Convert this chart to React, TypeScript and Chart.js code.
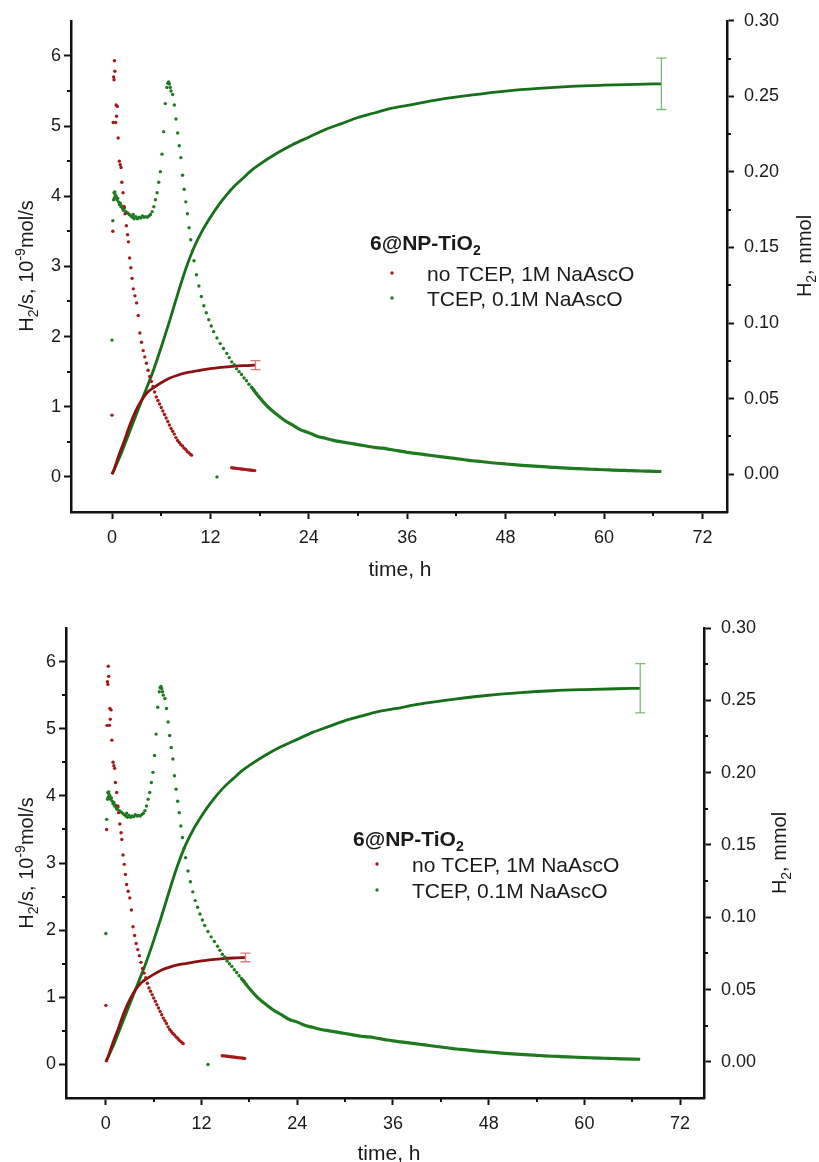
import React, { useEffect, useRef } from "react";
import { Chart, registerables } from "chart.js";
Chart.register(...registerables);

// ---------- axis ticks ----------
const xTickValues = [0, 12, 24, 36, 48, 60, 72];
const xMinorValues = [6, 18, 30, 42, 54, 66];
const yTickValues = [0, 1, 2, 3, 4, 5, 6];
const yMinorValues = [0.5, 1.5, 2.5, 3.5, 4.5, 5.5];
const y2TickValues = [0, 0.05, 0.1, 0.15, 0.2, 0.25, 0.3];
const y2MinorValues = [0.025, 0.075, 0.125, 0.175, 0.225, 0.275];

// ---------- rate, no TCEP, 1M NaAscO (left axis, 10^-9 mol/s) ----------
const redRateTime = [0, 0.1, 0.15, 0.2, 0.25, 0.3, 0.35, 0.45, 0.5, 0.55, 0.65, 0.75, 0.9, 1.0, 1.1, 1.2, 1.35, 1.5, 1.6, 1.75, 1.9, 2.0, 2.15, 2.3, 2.45, 2.6, 2.8, 3.0, 3.2, 3.4, 3.6, 3.8, 4.0, 4.2, 4.4, 4.6, 4.8, 5.0, 5.2, 5.4, 5.6, 5.8, 6.0, 6.2, 6.4, 6.6, 6.8, 7.0, 7.2, 7.4, 7.6, 7.8, 8.0, 8.2, 8.4, 8.6, 8.8, 9.0, 9.2, 9.4, 9.6, 9.7];
const redRateValue = [0.88, 3.5, 5.05, 5.7, 5.66, 5.93, 5.78, 5.05, 5.3, 5.14, 5.28, 4.83, 4.5, 4.45, 4.41, 4.2, 4.05, 3.85, 3.75, 3.58, 3.45, 3.35, 3.12, 2.98, 2.83, 2.68, 2.58, 2.48, 2.3, 2.05, 1.92, 1.8, 1.71, 1.62, 1.52, 1.43, 1.36, 1.29, 1.21, 1.14, 1.09, 1.04, 0.99, 0.94, 0.89, 0.84, 0.79, 0.74, 0.69, 0.65, 0.61, 0.56, 0.52, 0.49, 0.46, 0.44, 0.41, 0.39, 0.36, 0.34, 0.32, 0.31];
const redTailTime = [14.6, 14.8, 15.0, 15.2, 15.4, 15.6, 15.8, 16.0, 16.2, 16.4, 16.6, 16.8, 17.0, 17.2, 17.4];
const redTailValue = [0.13, 0.128, 0.125, 0.122, 0.118, 0.115, 0.112, 0.11, 0.107, 0.104, 0.1, 0.098, 0.095, 0.093, 0.09];

// ---------- rate, TCEP, 0.1M NaAscO (left axis) ----------
const greenRateTime = [0, 0.1, 0.2, 0.25, 0.3, 0.35, 0.4, 0.5, 0.6, 0.7, 0.8, 0.9, 1.0, 1.1, 1.2, 1.3, 1.4, 1.5, 1.7, 1.9, 2.1, 2.3, 2.5, 2.6, 2.7, 2.9, 3.1, 3.3, 3.5, 3.7, 3.9, 4.1, 4.3, 4.5, 4.7, 4.9, 5.1, 5.3, 5.5, 5.7, 5.9, 6.1, 6.3, 6.5, 6.7, 6.8, 6.9, 7.0, 7.1, 7.2, 7.4, 7.6, 7.8, 8.0, 8.2, 8.4, 8.6, 8.8, 9.0, 9.2, 9.4, 9.6, 9.8, 10.0, 10.3, 10.6, 10.9, 11.2, 11.5, 11.8, 12.1, 12.4, 12.8, 12.8, 13.2, 13.6, 14.0, 14.3, 14.6, 14.9, 15.2, 15.5, 15.8, 16.1, 16.4, 16.7, 17.0, 17.3, 17.6];
const greenRateValue = [1.95, 3.65, 3.95, 4.05, 3.98, 4.06, 4.02, 4.0, 3.95, 3.97, 3.92, 3.88, 3.9, 3.85, 3.86, 3.82, 3.8, 3.83, 3.78, 3.76, 3.74, 3.72, 3.7, 3.74, 3.68, 3.71, 3.68, 3.7, 3.69, 3.72, 3.7, 3.71, 3.7, 3.72, 3.74, 3.78, 3.85, 3.95, 4.05, 4.2, 4.35, 4.6, 4.92, 5.32, 5.55, 5.61, 5.63, 5.6, 5.55, 5.5, 5.45, 5.3, 5.1, 4.9, 4.72, 4.55, 4.3, 4.1, 3.92, 3.75, 3.55, 3.38, 3.22, 3.08, 2.88, 2.72, 2.57, 2.44, 2.34, 2.24, 2.15, 2.07, 0.0, 1.98, 1.9, 1.83, 1.76, 1.7, 1.64, 1.6, 1.54, 1.5, 1.46, 1.41, 1.37, 1.32, 1.28, 1.24, 1.19];
const greenDecayTime = [17, 18, 19, 20, 21, 22, 23, 24, 25, 26, 27, 28, 29, 30, 31, 32, 33, 34, 35, 36, 37, 38, 39, 40, 41, 42, 43, 44, 45, 46, 47, 48, 49, 50, 51, 52, 53, 54, 55, 56, 57, 58, 59, 60, 61, 62, 63, 64, 65, 66, 67];
const greenDecayValue = [1.28, 1.13, 1.0, 0.9, 0.81, 0.74, 0.67, 0.63, 0.58, 0.55, 0.52, 0.5, 0.48, 0.46, 0.44, 0.42, 0.41, 0.39, 0.37, 0.35, 0.335, 0.32, 0.305, 0.29, 0.275, 0.26, 0.245, 0.23, 0.22, 0.205, 0.195, 0.185, 0.175, 0.165, 0.157, 0.15, 0.142, 0.135, 0.128, 0.122, 0.117, 0.112, 0.107, 0.102, 0.098, 0.094, 0.09, 0.086, 0.083, 0.08, 0.077];

// ---------- cumulative H2 (right axis, mmol) ----------
const greenTotalTime = [0, 0.5, 1, 2, 3, 4, 5, 6, 7, 8, 9, 10, 11, 12, 13, 14, 15, 16, 17, 18, 20, 22, 24, 26, 28, 30, 32, 34, 36, 40, 44, 48, 52, 56, 60, 64, 67];
const greenTotalValue = [0, 0.006, 0.012, 0.026, 0.04, 0.054, 0.068, 0.084, 0.101, 0.119, 0.136, 0.15, 0.161, 0.17, 0.178, 0.185, 0.191, 0.196, 0.201, 0.205, 0.212, 0.218, 0.223, 0.228, 0.232, 0.236, 0.239, 0.242, 0.244, 0.248, 0.251, 0.2535, 0.2553, 0.2566, 0.2574, 0.258, 0.2583];
const redTotalTime = [0, 0.25, 0.5, 1, 1.5, 2, 2.5, 3, 3.5, 4, 4.5, 5, 6, 7, 8, 9, 10, 11, 12, 13, 14, 15, 16, 17, 17.5];
const redTotalValue = [0, 0.003, 0.007, 0.015, 0.022, 0.03, 0.037, 0.043, 0.048, 0.052, 0.055, 0.057, 0.0605, 0.0635, 0.0655, 0.067, 0.068, 0.069, 0.0698, 0.0705, 0.071, 0.0715, 0.0718, 0.072, 0.0722];

// ---------- error bars on final totals ----------
const errorTime = [67, 17.5];
const errorCenter = [0.2583, 0.0722];
const errorHalf = [0.017, 0.003];

// ---------- text ----------
const legendTitle = "6@NP-TiO";
const legendTitleSub = "2";
const legendLabels = ["no TCEP, 1M NaAscO", "TCEP, 0.1M NaAscO"];
const xTitle = "time, h";
type Seg = [string, "" | "sub" | "sup"];
const yTitleSegs: Seg[] = [["H", ""], ["2", "sub"], ["/s, 10", ""], ["-9", "sup"], ["mol/s", ""]];
const y2TitleSegs: Seg[] = [["H", ""], ["2", "sub"], [", mmol", ""]];

const FAMILY = '"Liberation Sans", Arial, sans-serif';
const RED_DOT = "#a31a1a";
const GREEN_DOT = "#1f7a1f";
const RED_LINE = "#8c1212";
const GREEN_LINE = "#16701a";
const TEXT = "#1a1a1a";

type Geo = {
  W: number; H: number; left: number; right: number; top: number; bottom: number;
  yT: [number, number]; y2T: [number, number]; xT: [number, number];
  legT: [number, number]; legMX: number; legTX: number; legRows: [number, number];
};

const TOP_GEO: Geo = {
  W: 819, H: 590, left: 71, right: 727, top: 20, bottom: 512,
  yT: [26, 266], y2T: [804, 256], xT: [400, 568],
  legT: [370, 242], legMX: 392, legTX: 427, legRows: [273, 298],
};
const BOTTOM_GEO: Geo = {
  W: 819, H: 572, left: 66, right: 704, top: 38, bottom: 508,
  yT: [26, 273], y2T: [779, 263], xT: [389, 562],
  legT: [353, 248], legMX: 377, legTX: 412, legRows: [274, 300],
};

function pts(t: number[], v: number[]) {
  return t.map((x, i) => ({ x, y: v[i] }));
}

function drawRich(ctx: CanvasRenderingContext2D, segs: Seg[], x: number, y: number, size: number, bold: boolean, rotate: boolean, align: "left" | "center") {
  ctx.save();
  ctx.translate(x, y);
  if (rotate) ctx.rotate(-Math.PI / 2);
  const font = (k: string) => `${bold ? "bold " : ""}${k ? Math.round(size * 0.68) : size}px ${FAMILY}`;
  let total = 0;
  const widths = segs.map(([t, k]) => {
    ctx.font = font(k);
    const w = ctx.measureText(t).width;
    total += w;
    return w;
  });
  let cx = align === "center" ? -total / 2 : 0;
  ctx.textBaseline = "alphabetic";
  ctx.textAlign = "left";
  ctx.fillStyle = TEXT;
  const base = size * 0.36;
  segs.forEach(([t, k], i) => {
    ctx.font = font(k);
    const dy = k === "sub" ? size * 0.25 : k === "sup" ? -size * 0.42 : 0;
    ctx.fillText(t, cx, base + dy);
    cx += widths[i];
  });
  ctx.restore();
}

function PlotPanel({ g }: { g: Geo }) {
  const ref = useRef<HTMLCanvasElement | null>(null);
  useEffect(() => {
    if (!ref.current) return;
    const tickFont = { family: FAMILY, size: 18 };
    const decor = {
      id: "decor",
      afterDatasetsDraw(chart: any) {
        const ctx = chart.ctx as CanvasRenderingContext2D;
        const xs = chart.scales.x, y2 = chart.scales.y2;
        ctx.save();
        errorTime.forEach((t, i) => {
          const px = xs.getPixelForValue(t);
          const top = y2.getPixelForValue(errorCenter[i] + errorHalf[i]);
          const bot = y2.getPixelForValue(errorCenter[i] - errorHalf[i]);
          ctx.strokeStyle = i === 0 ? "#7db87d" : "#e07a7a";
          ctx.lineWidth = 1.3;
          ctx.beginPath();
          ctx.moveTo(px, top); ctx.lineTo(px, bot);
          ctx.moveTo(px - 5, top); ctx.lineTo(px + 5, top);
          ctx.moveTo(px - 5, bot); ctx.lineTo(px + 5, bot);
          ctx.stroke();
        });
        ctx.restore();
      },
      afterDraw(chart: any) {
        const ctx = chart.ctx as CanvasRenderingContext2D;
        const a = chart.chartArea;
        const xs = chart.scales.x, ys = chart.scales.y, y2 = chart.scales.y2;
        ctx.save();
        ctx.strokeStyle = "#111";
        ctx.lineWidth = 2;
        ctx.beginPath();
        xMinorValues.forEach((v) => {
          const p = Math.round(xs.getPixelForValue(v));
          ctx.moveTo(p, a.bottom); ctx.lineTo(p, a.bottom + 4);
        });
        yMinorValues.forEach((v) => {
          const p = Math.round(ys.getPixelForValue(v));
          ctx.moveTo(a.left - 4, p); ctx.lineTo(a.left, p);
        });
        y2MinorValues.forEach((v) => {
          const p = Math.round(y2.getPixelForValue(v));
          ctx.moveTo(a.right, p); ctx.lineTo(a.right + 4, p);
        });
        ctx.stroke();
        ctx.restore();

        drawRich(ctx, yTitleSegs, g.yT[0], g.yT[1], 20, false, true, "center");
        drawRich(ctx, y2TitleSegs, g.y2T[0], g.y2T[1], 20, false, true, "center");
        drawRich(ctx, [[xTitle, ""]], g.xT[0], g.xT[1], 21, false, false, "center");
        drawRich(ctx, [[legendTitle, ""], [legendTitleSub, "sub"]], g.legT[0], g.legT[1], 21, true, false, "left");
        legendLabels.forEach((lab, i) => {
          ctx.save();
          ctx.fillStyle = i === 0 ? RED_DOT : GREEN_DOT;
          ctx.beginPath();
          ctx.arc(g.legMX, g.legRows[i], 1.7, 0, Math.PI * 2);
          ctx.fill();
          ctx.restore();
          drawRich(ctx, [[lab, ""]], g.legTX, g.legRows[i], 21, false, false, "left");
        });
      },
    };

    const dot = (color: string) => ({
      showLine: false,
      pointRadius: 1.7,
      pointBorderWidth: 0,
      pointBackgroundColor: color,
      pointBorderColor: color,
      backgroundColor: color,
      borderColor: color,
    });

    const chart = new Chart(ref.current, {
      type: "scatter",
      data: {
        datasets: [
          { ...dot(RED_DOT), data: pts(redRateTime, redRateValue), yAxisID: "y" },
          { ...dot(RED_DOT), data: pts(redTailTime, redTailValue), yAxisID: "y" },
          { ...dot(GREEN_DOT), data: pts(greenRateTime, greenRateValue), yAxisID: "y" },
          {
            data: pts(greenDecayTime, greenDecayValue), yAxisID: "y", showLine: true,
            borderColor: GREEN_DOT, borderWidth: 3.2, pointRadius: 0, cubicInterpolationMode: "monotone",
          },
          {
            data: pts(redTotalTime, redTotalValue), yAxisID: "y2", showLine: true,
            borderColor: RED_LINE, borderWidth: 2.8, pointRadius: 0, cubicInterpolationMode: "monotone",
          },
          {
            data: pts(greenTotalTime, greenTotalValue), yAxisID: "y2", showLine: true,
            borderColor: GREEN_LINE, borderWidth: 2.8, pointRadius: 0, cubicInterpolationMode: "monotone",
          },
        ] as any,
      },
      options: {
        responsive: false,
        devicePixelRatio: 1,
        animation: false,
        layout: { padding: { top: g.top, left: 0, right: 0, bottom: 0 } },
        plugins: { legend: { display: false }, tooltip: { enabled: false } },
        scales: {
          x: {
            type: "linear", position: "bottom", min: -5, max: 75,
            afterBuildTicks: (s: any) => { s.ticks = xTickValues.map((value) => ({ value })); },
            afterFit: (s: any) => { s.height = g.H - g.bottom; },
            ticks: { font: tickFont, color: TEXT, padding: 8, maxRotation: 0, autoSkip: false },
            grid: { drawOnChartArea: false, tickLength: 7, tickWidth: 2, color: "#111" },
            border: { color: "#111", width: 2.5 },
          },
          y: {
            type: "linear", position: "left", min: -0.5, max: 6.5,
            afterBuildTicks: (s: any) => { s.ticks = yTickValues.map((value) => ({ value })); },
            afterFit: (s: any) => { s.width = g.left; },
            ticks: { font: tickFont, color: TEXT, padding: 3 },
            grid: { drawOnChartArea: false, tickLength: 7, tickWidth: 2, color: "#111" },
            border: { color: "#111", width: 2.5 },
          },
          y2: {
            type: "linear", position: "right", min: -0.025, max: 0.3,
            afterBuildTicks: (s: any) => { s.ticks = y2TickValues.map((value) => ({ value })); },
            afterFit: (s: any) => { s.width = g.W - g.right; },
            ticks: { font: tickFont, color: TEXT, padding: 10, callback: (v: any) => Number(v).toFixed(2) },
            grid: { drawOnChartArea: false, tickLength: 7, tickWidth: 2, color: "#111" },
            border: { color: "#111", width: 2.5 },
          },
        },
      } as any,
      plugins: [decor],
    });
    return () => chart.destroy();
  }, [g]);
  return <canvas ref={ref} width={g.W} height={g.H} style={{ display: "block", width: g.W, height: g.H }} />;
}

export default function App() {
  return (
    <div style={{ position: "absolute", left: 0, top: 0, width: 819, height: 1162, background: "#fff" }}>
      <PlotPanel g={TOP_GEO} />
      <PlotPanel g={BOTTOM_GEO} />
    </div>
  );
}
